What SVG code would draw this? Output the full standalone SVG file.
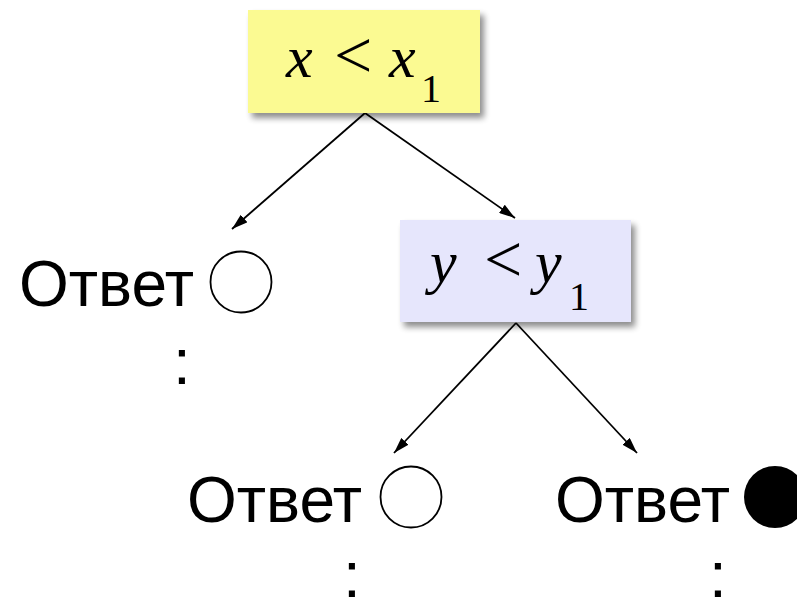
<svg xmlns="http://www.w3.org/2000/svg" width="797" height="604" viewBox="0 0 797 604">
<defs>
<filter id="sh" x="-10%" y="-10%" width="130%" height="140%">
<feGaussianBlur in="SourceAlpha" stdDeviation="3"/>
<feOffset dx="4" dy="5" result="b"/>
<feComponentTransfer><feFuncA type="linear" slope="0.45"/></feComponentTransfer>
<feMerge><feMergeNode/><feMergeNode in="SourceGraphic"/></feMerge>
</filter>
<marker id="ah" viewBox="0 0 16 10" refX="16" refY="5" markerWidth="16" markerHeight="10" markerUnits="userSpaceOnUse" orient="auto">
<path d="M0,0 L16,5 L0,10 Z" fill="#000"/>
</marker>
</defs>
<style>
.m{font-family:"Liberation Serif","Times New Roman",serif;font-style:italic;font-size:60px;fill:#000}
.op{font-family:"Liberation Serif","Times New Roman",serif;font-size:68px;fill:#000}
.sub{font-family:"Liberation Serif","Times New Roman",serif;font-size:40px;fill:#000}
.a{font-family:"Liberation Sans",Arial,sans-serif;font-size:64px;fill:#000}
.c{font-family:"Liberation Sans",Arial,sans-serif;font-size:64px;fill:#000}
.edge{stroke:#000;stroke-width:1.8;fill:none;marker-end:url(#ah)}
</style>
<rect width="797" height="604" fill="#fff"/>
<g id="connectors">
<line class="edge" x1="365" y1="113" x2="232" y2="229"/>
<line class="edge" x1="365" y1="113" x2="515" y2="218"/>
<line class="edge" x1="516" y1="323" x2="394" y2="453"/>
<line class="edge" x1="516" y1="323" x2="637" y2="453"/>
</g>
<g id="node-x">
<rect x="248" y="10" width="232" height="103" fill="#FBFA92" filter="url(#sh)"/>
<text class="m" x="286" y="77">x</text>
<text class="op" x="334" y="78">&lt;</text>
<text class="m" x="389" y="77">x</text>
<text class="sub" x="421" y="102">1</text>
</g>
<g id="node-y">
<rect x="400" y="220" width="231" height="102" fill="#E6E6FC" filter="url(#sh)"/>
<text class="m" x="430" y="282">y</text>
<text class="op" x="484" y="282">&lt;</text>
<text class="m" x="535" y="282">y</text>
<text class="sub" x="569" y="310">1</text>
</g>
<g id="answer-left">
<text class="a" x="19" y="306">Ответ</text>
<circle cx="241" cy="282" r="30.5" fill="#fff" stroke="#000" stroke-width="1.8"/>
<text class="c" x="182" y="384" text-anchor="middle">:</text>
</g>
<g id="answer-mid">
<text class="a" x="187" y="522">Ответ</text>
<circle cx="411" cy="497" r="30.5" fill="#fff" stroke="#000" stroke-width="1.8"/>
<text class="c" x="352" y="597" text-anchor="middle">:</text>
</g>
<g id="answer-right">
<text class="a" x="555" y="522">Ответ</text>
<circle cx="775" cy="497" r="31" fill="#000"/>
<text class="c" x="718" y="597" text-anchor="middle">:</text>
</g>
</svg>
